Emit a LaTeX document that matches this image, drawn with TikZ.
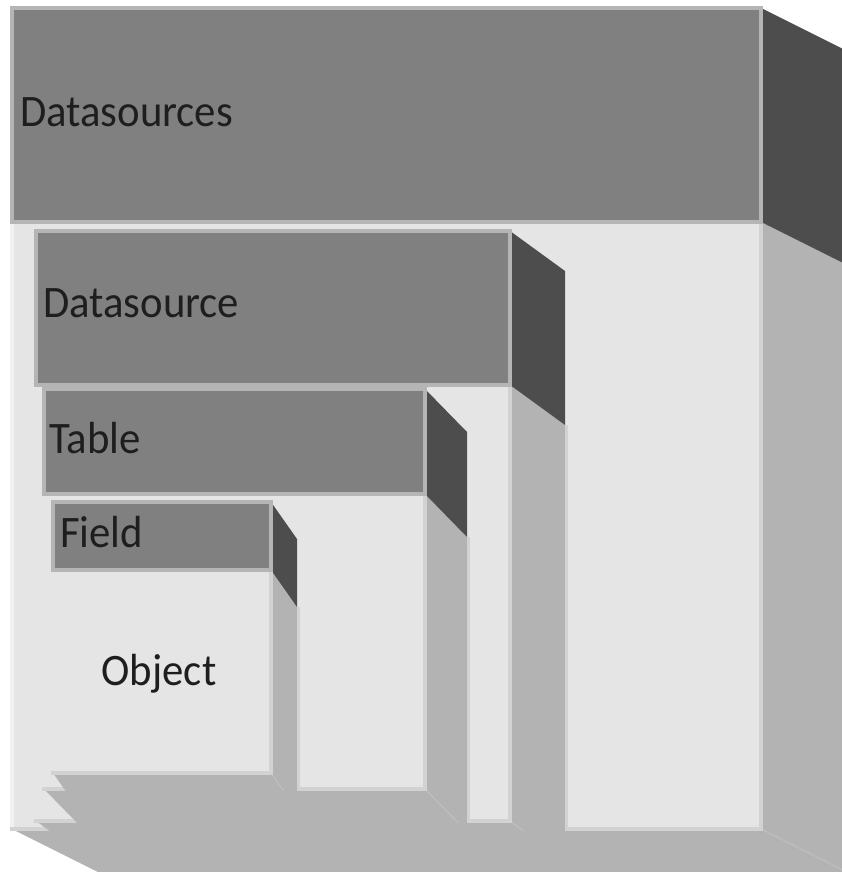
\documentclass[tikz,border=0pt]{standalone}
\usepackage{fontspec}
\setmainfont{Carlito}[FakeStretch=0.95]
\definecolor{headc}{HTML}{808080}
\definecolor{sidec}{HTML}{4D4D4D}
\definecolor{bodyc}{HTML}{E5E5E5}
\definecolor{floorc}{HTML}{B3B3B3}
\definecolor{edgec}{HTML}{B5B5B5}
\definecolor{bodyedge}{HTML}{D2D2D2}
\definecolor{rimc}{HTML}{F1F1F1}
\definecolor{seamc}{HTML}{C0C0C0}
\definecolor{txtc}{HTML}{1E1E1E}
% One extruded box: #1 left, #2 top, #3 right, #4 header bottom, #5 bottom,
% #6/#7 extrusion offset (to the right and down), #8 lowest y of the edge lines
\newcommand{\nestbox}[8]{%
  \fill[floorc] (#1,#5) -- (#3,#5) -- (#3+#6,#5+#7) -- (#1+#6,#5+#7) -- cycle;
  \fill[floorc] (#3,#4) -- (#3+#6,#4+#7) -- (#3+#6,#5+#7) -- (#3,#5) -- cycle;
  \fill[sidec] (#3,#2) -- (#3+#6,#2+#7) -- (#3+#6,#4+#7) -- (#3,#4) -- cycle;
  \begin{scope}
    \clip (0,0) rectangle (842,#8);
    \draw[bodyedge,line width=3pt] (#3+#6+1.5,#4+#7) -- (#3+#6+1.5,#5+#7);
    \draw[seamc,line width=1pt] (#3,#5) -- (#3+#6,#5+#7);
  \end{scope}
  \fill[bodyc] (#1-2,#4) rectangle (#3,#5);
  \draw[bodyedge,line width=4pt] (#3,#4) -- (#3,#5) -- (#1-2,#5);
  \path[headface] (#1,#2) rectangle (#3,#4);
}
\begin{document}
\begin{tikzpicture}[x=1pt,y=-1pt,
  headface/.style={fill=headc,draw=edgec,line width=4pt},
  lbl/.style={text=txtc,inner sep=0pt,font=\fontsize{45}{54}\selectfont,anchor=base west}]
\useasboundingbox (0,0) rectangle (842,872);
\begin{scope}
\clip (0,0) rectangle (842,872);
% outermost box and the boxes nested in it
\nestbox{12}{8}{761}{222}{829}{90}{45}{872}
\draw[rimc,line width=4pt] (12,224) -- (12,827);
\nestbox{36}{231}{510}{385}{821}{55}{40}{830}
\nestbox{44}{389}{425}{494}{789}{42}{43}{822}
\nestbox{53}{502}{271}{570}{773}{26}{37}{790}
\end{scope}
% labels
\node[lbl] (dss) at (20,127) {Datasources};
\node[lbl] (ds) at (43,317) {Datasource};
\node[lbl] (tbl) at (49,453) {Table};
\node[lbl] (fld) at (60,547) {Field};
\node[lbl,anchor=base] (obj) at (159,685) {Object};
\end{tikzpicture}
\end{document}
